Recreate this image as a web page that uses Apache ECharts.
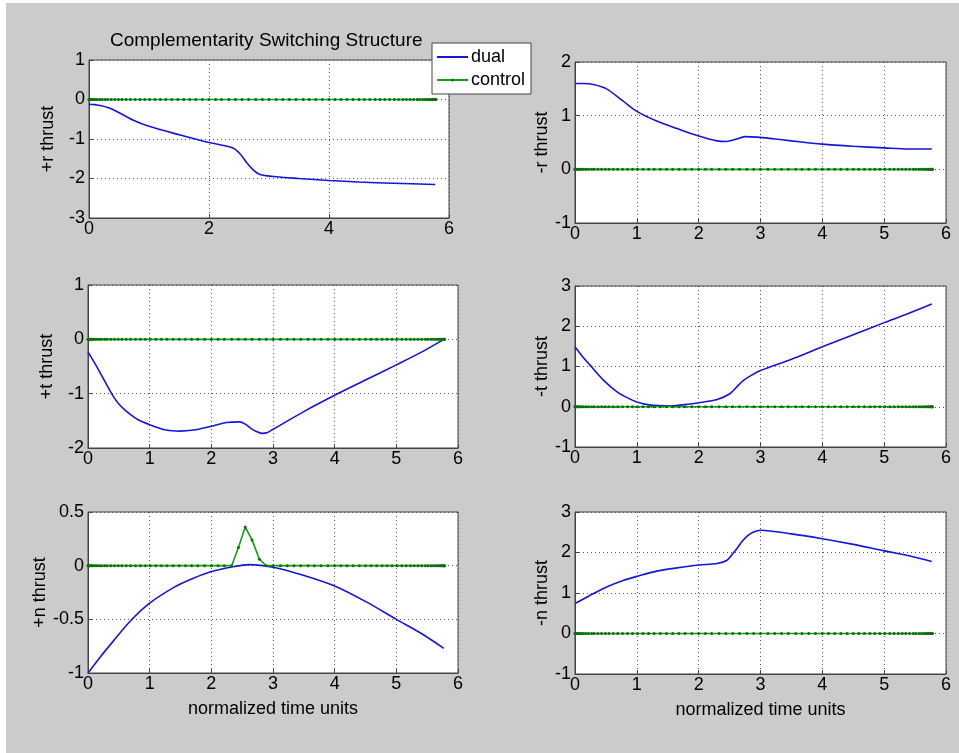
<!DOCTYPE html>
<html>
<head>
<meta charset="utf-8">
<script src="https://cdn.jsdelivr.net/npm/echarts@6/dist/echarts.min.js"></script>
<style>
  html, body { margin: 0; padding: 0; background: #fff; }
  #chart { position: absolute; left: 6px; top: 3px; width: 953px; height: 750px; }
</style>
</head>
<body>
<div id="chart"></div>
<script>
// marker positions of the control series (clustered at the ends)
const nodeX = [
  0, 0.003, 0.01, 0.02, 0.04, 0.06, 0.08, 0.11, 0.14, 0.18, 0.22, 0.27, 0.31, 0.37, 0.43, 0.49,
  0.55, 0.62, 0.69, 0.77, 0.85, 0.93, 1.01, 1.10, 1.19, 1.28, 1.38, 1.48, 1.58, 1.68, 1.78,
  1.89, 2.00, 2.11, 2.21, 2.33, 2.44, 2.55, 2.66, 2.78, 2.89, 3.00, 3.12, 3.23, 3.34, 3.45,
  3.57, 3.67, 3.78, 3.89, 4.00, 4.10, 4.20, 4.30, 4.40, 4.50, 4.59, 4.68, 4.77, 4.85, 4.93,
  5.01, 5.09, 5.16, 5.23, 5.29, 5.35, 5.41, 5.47, 5.51, 5.56, 5.60, 5.64, 5.67, 5.70, 5.72,
  5.74, 5.76, 5.77, 5.777, 5.78
];
const controlZero = [
  0, 0, 0, 0, 0, 0, 0, 0, 0, 0, 0, 0, 0, 0, 0, 0, 0, 0, 0, 0,
  0, 0, 0, 0, 0, 0, 0, 0, 0, 0, 0, 0, 0, 0, 0, 0, 0, 0, 0, 0,
  0, 0, 0, 0, 0, 0, 0, 0, 0, 0, 0, 0, 0, 0, 0, 0, 0, 0, 0, 0,
  0, 0, 0, 0, 0, 0, 0, 0, 0, 0, 0, 0, 0, 0, 0, 0, 0, 0, 0, 0,
  0
];
const controlN = [
  0, 0, 0, 0, 0, 0, 0, 0, 0, 0, 0, 0, 0, 0, 0, 0, 0, 0, 0, 0,
  0, 0, 0, 0, 0, 0, 0, 0, 0, 0, 0, 0, 0, 0, 0, 0, 0.17, 0.36, 0.24, 0.06,
  0, 0, 0, 0, 0, 0, 0, 0, 0, 0, 0, 0, 0, 0, 0, 0, 0, 0, 0, 0,
  0, 0, 0, 0, 0, 0, 0, 0, 0, 0, 0, 0, 0, 0, 0, 0, 0, 0, 0, 0,
  0
];

// dual curves
const rPlusX = [0, 0.1, 0.35, 0.73, 1.0, 1.52, 2.0, 2.2, 2.4, 2.52, 2.63, 2.75, 2.85, 3.07, 3.5, 4.0, 4.5, 5.07, 5.77];
const rPlusY = [-0.12, -0.13, -0.22, -0.52, -0.68, -0.9, -1.09, -1.15, -1.23, -1.38, -1.6, -1.8, -1.9, -1.95, -2.0, -2.05, -2.09, -2.12, -2.15];

const rMinusX = [0, 0.15, 0.3, 0.51, 0.78, 1.0, 1.32, 1.65, 2.0, 2.3, 2.45, 2.6, 2.75, 2.95, 3.2, 3.5, 4.0, 4.5, 5.0, 5.4, 5.77];
const rMinusY = [1.6, 1.6, 1.58, 1.5, 1.27, 1.08, 0.9, 0.76, 0.62, 0.53, 0.52, 0.56, 0.61, 0.6, 0.57, 0.53, 0.47, 0.43, 0.4, 0.38, 0.38];

const tPlusX = [0, 0.1, 0.2, 0.3, 0.41, 0.5, 0.62, 0.8, 1.0, 1.27, 1.49, 1.71, 2.0, 2.25, 2.46, 2.55, 2.63, 2.72, 2.82, 2.9, 3.01, 3.5, 4.0, 4.5, 5.0, 5.4, 5.77];
const tPlusY = [-0.23, -0.42, -0.62, -0.83, -1.05, -1.19, -1.32, -1.47, -1.57, -1.67, -1.69, -1.67, -1.6, -1.53, -1.52, -1.56, -1.63, -1.69, -1.73, -1.72, -1.65, -1.33, -1.03, -0.75, -0.47, -0.24, 0];

const tMinusX = [0, 0.12, 0.24, 0.46, 0.68, 0.85, 1.0, 1.22, 1.54, 1.86, 2.0, 2.3, 2.51, 2.62, 2.73, 2.85, 3.0, 3.5, 4.0, 4.5, 5.0, 5.4, 5.77];
const tMinusY = [1.49, 1.25, 1.04, 0.66, 0.37, 0.22, 0.12, 0.04, 0.02, 0.07, 0.1, 0.18, 0.33, 0.5, 0.66, 0.78, 0.9, 1.18, 1.49, 1.79, 2.09, 2.32, 2.55];

const nPlusX = [0, 0.2, 0.4, 0.68, 1.0, 1.4, 1.7, 2.0, 2.35, 2.62, 3.0, 3.49, 4.0, 4.52, 5.0, 5.4, 5.77];
const nPlusY = [-1, -0.85, -0.71, -0.52, -0.35, -0.2, -0.12, -0.055, -0.01, 0.01, -0.015, -0.09, -0.19, -0.34, -0.5, -0.63, -0.77];

const nMinusX = [0, 0.24, 0.51, 0.78, 1.0, 1.32, 1.65, 2.0, 2.3, 2.46, 2.54, 2.62, 2.7, 2.78, 2.88, 3.0, 3.5, 4.0, 4.5, 5.0, 5.4, 5.77];
const nMinusY = [0.74, 0.94, 1.15, 1.31, 1.41, 1.54, 1.62, 1.69, 1.73, 1.81, 1.95, 2.1, 2.27, 2.4, 2.5, 2.55, 2.46, 2.34, 2.2, 2.04, 1.92, 1.78];

const yLabels = ['+r thrust', '-r thrust', '+t thrust', '-t thrust', '+n thrust', '-n thrust'];
const xLabel = 'normalized time units';
const titleText = 'Complementarity Switching Structure';

var font = "'Liberation Sans', Arial, sans-serif";

// one entry per subplot
var panels = [
  { grid: { left: 83, top: 57, width: 360, height: 158 }, yMin: -3, yMax: 1, yInt: 1, xInt: 2, dx: rPlusX, dy: rPlusY, ctrl: controlZero },
  { grid: { left: 569, top: 59, width: 371, height: 161 }, yMin: -1, yMax: 2, yInt: 1, xInt: 1, dx: rMinusX, dy: rMinusY, ctrl: controlZero },
  { grid: { left: 82, top: 282, width: 370, height: 163 }, yMin: -2, yMax: 1, yInt: 1, xInt: 1, dx: tPlusX, dy: tPlusY, ctrl: controlZero },
  { grid: { left: 569, top: 283, width: 371, height: 161 }, yMin: -1, yMax: 3, yInt: 1, xInt: 1, dx: tMinusX, dy: tMinusY, ctrl: controlZero },
  { grid: { left: 82, top: 509, width: 370, height: 161 }, yMin: -1, yMax: 0.5, yInt: 0.5, xInt: 1, dx: nPlusX, dy: nPlusY, ctrl: controlN },
  { grid: { left: 569, top: 509, width: 371, height: 162 }, yMin: -1, yMax: 3, yInt: 1, xInt: 1, dx: nMinusX, dy: nMinusY, ctrl: controlZero }
];

var grids = [], xAxes = [], yAxes = [], series = [];

panels.forEach(function (p, i) {
  grids.push(Object.assign({
    show: true,
    backgroundColor: '#fff',
    borderColor: '#444',
    borderWidth: 1
  }, p.grid));

  var gridLine = { show: true, lineStyle: { color: '#555', type: [1, 3], width: 1 } };
  var leftCol = i % 2 === 0;

  xAxes.push({
    gridIndex: i,
    type: 'value',
    min: 0,
    max: 6,
    interval: p.xInt,
    name: i >= 4 ? xLabel : '',
    nameLocation: 'middle',
    nameGap: 27,
    nameTextStyle: { fontFamily: font, fontSize: 18, color: '#000' },
    axisLine: { show: true, onZero: false, lineStyle: { color: '#444' } },
    axisTick: { show: true, inside: true, length: 4, lineStyle: { color: '#444' } },
    axisLabel: { fontFamily: font, fontSize: 18, color: '#000', margin: 2 },
    splitLine: gridLine
  });

  yAxes.push({
    gridIndex: i,
    type: 'value',
    min: p.yMin,
    max: p.yMax,
    interval: p.yInt,
    name: yLabels[i],
    nameLocation: 'middle',
    nameRotate: 90,
    nameGap: leftCol ? 32 : 23,
    nameTextStyle: { fontFamily: font, fontSize: 18, color: '#000' },
    axisLine: { show: true, onZero: false, lineStyle: { color: '#444' } },
    axisTick: { show: true, inside: true, length: 4, lineStyle: { color: '#444' } },
    axisLabel: { fontFamily: font, fontSize: 18, color: '#000', margin: 4 },
    splitLine: gridLine
  });

  series.push({
    name: 'dual',
    type: 'line',
    xAxisIndex: i,
    yAxisIndex: i,
    data: p.dx.map(function (x, k) { return [x, p.dy[k]]; }),
    smooth: 0.3,
    symbol: 'none',
    lineStyle: { color: '#1515dd', width: 1.6 },
    itemStyle: { color: '#1515dd' },
    z: 3
  });

  series.push({
    name: 'control',
    type: 'line',
    xAxisIndex: i,
    yAxisIndex: i,
    data: nodeX.map(function (x, k) { return [x, p.ctrl[k]]; }),
    symbol: 'circle',
    symbolSize: 3,
    lineStyle: { color: '#10a010', width: 1.6 },
    itemStyle: { color: '#0a700a' },
    z: 4
  });
});

var chart = echarts.init(document.getElementById('chart'));
chart.setOption({
  animation: false,
  backgroundColor: '#cbcbcb',
  grid: grids,
  xAxis: xAxes,
  yAxis: yAxes,
  series: series,
  legend: {
    data: [{ name: 'dual', itemStyle: { opacity: 0 } }, { name: 'control' }],
    orient: 'vertical',
    left: 426,
    top: 40,
    backgroundColor: '#fff',
    borderColor: '#444',
    borderWidth: 1,
    borderRadius: 0,
    padding: [5, 6, 5, 4],
    itemGap: 5,
    itemWidth: 31,
    itemHeight: 4,
    textStyle: { fontFamily: font, fontSize: 18, color: '#000', padding: [0, 0, 0, -2] }
  },
  graphic: [{
    type: 'text',
    left: 104,
    top: 28,
    style: { text: titleText, font: '19px ' + font, fill: '#000' }
  }]
});
</script>
</body>
</html>
